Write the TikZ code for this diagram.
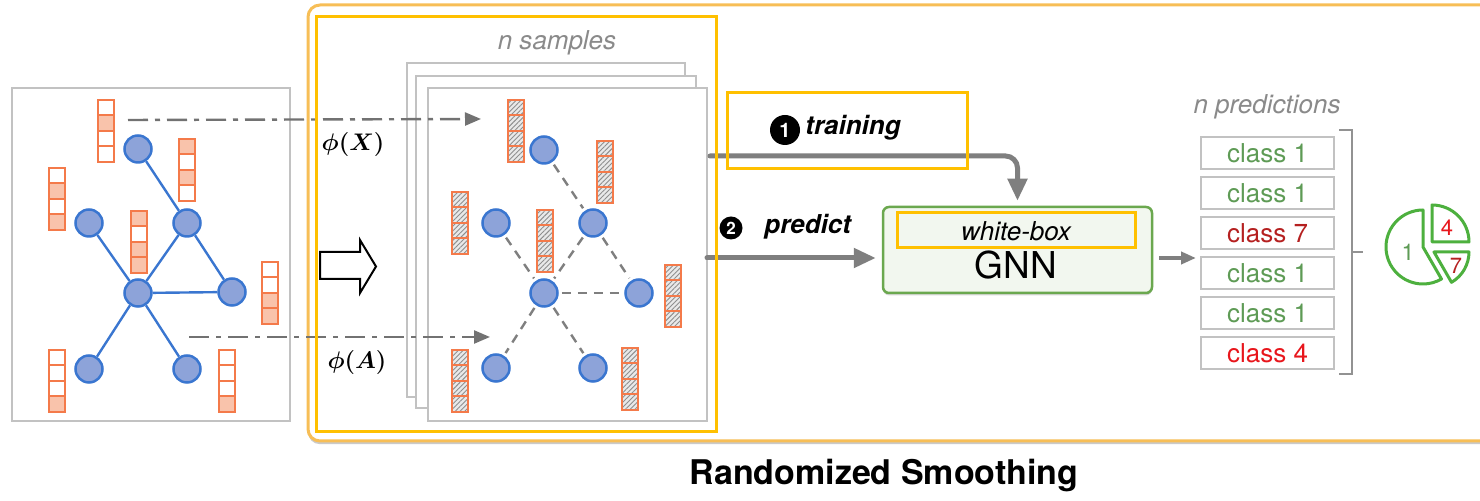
\documentclass[tikz,border=0pt]{standalone}
\usepackage[no-math]{fontspec}
\setmainfont{TeX Gyre Heros}
\usepackage{bm}
\usetikzlibrary{arrows.meta,calc,patterns.meta,shadows}

\definecolor{boxgray}{HTML}{C2C2C2}
\definecolor{nodefill}{HTML}{8DA3D9}
\definecolor{nodeline}{HTML}{3A76D0}
\definecolor{vecline}{HTML}{F47A4A}
\definecolor{vecfill}{HTML}{F9C3AB}
\definecolor{hatchbg}{HTML}{E9E9E9}
\definecolor{hatchline}{HTML}{8E8E8E}
\definecolor{hlyellow}{HTML}{FFC000}
\definecolor{frameorange}{HTML}{F7BE56}
\definecolor{arrowgray}{HTML}{7F7F7F}
\definecolor{gnnline}{HTML}{6BA84F}
\definecolor{gnnfill}{HTML}{F2F7EF}
\definecolor{classgreen}{HTML}{5E9B55}
\definecolor{classdark}{HTML}{B52020}
\definecolor{classred}{HTML}{E8161C}
\definecolor{piegreen}{HTML}{4DB03E}
\definecolor{labelgray}{HTML}{8A8A8A}

% one feature vector: four stacked cells, #2 is the top-left corner
\newcommand{\featvec}[3]{%
  \foreach \s [count=\k from 0] in {#3}
    \node[\s] (#1-\k) at ($(#2)+(8,\k*15.5+7.75)$) {};}

\begin{document}
\begin{tikzpicture}[x=0.5pt,y=-0.5pt,
  gnode/.style={circle, draw=nodeline, fill=nodefill, line width=1.25pt,
    minimum size=13.5pt, inner sep=0pt},
  celloff/.style={draw=vecline, fill=white, line width=1pt, minimum width=8pt,
    minimum height=7.75pt, inner sep=0pt, outer sep=0pt},
  cellon/.style={celloff, fill=vecfill},
  cellhatch/.style={draw=vecline, line width=1pt, minimum width=8pt,
    minimum height=7.75pt, inner sep=0pt, outer sep=0pt,
    preaction={fill=hatchbg},
    preaction={pattern={Lines[angle=45,distance=1.7pt,line width=0.45pt]},
      pattern color=hatchline}},
  solidedge/.style={draw=nodeline, line width=1.2pt},
  noisyedge/.style={draw=arrowgray, line width=1.2pt, dash pattern=on 4.5pt off 3.5pt,
    shorten <=1.5pt, shorten >=1.5pt},
  samplebox/.style={draw=boxgray, fill=white, line width=1pt},
  perturb/.style={draw=arrowgray!90!black, line width=1.2pt,
    dash pattern=on 10pt off 3.5pt on 2.5pt off 3.5pt,
    -{Triangle[length=8pt,width=6.5pt]}},
  flow/.style={draw=arrowgray, line width=2.5pt, line cap=round,
    -{Triangle[length=11pt,width=9.5pt]}},
  highlight/.style={draw=hlyellow, line width=1.5pt},
  predbox/.style={draw=boxgray, line width=1pt, minimum width=66.5pt,
    minimum height=16pt, inner sep=0pt, font=\fontsize{13}{15}\selectfont},
  stepnum/.style={circle, fill=black, text=white, inner sep=0pt,
    font=\bfseries\fontsize{10}{12}\selectfont},
  steptext/.style={anchor=west, inner sep=0pt,
    font=\bfseries\itshape\fontsize{13}{15}\selectfont},
  graylabel/.style={text=labelgray, font=\itshape\fontsize{13}{15}\selectfont},
  phitext/.style={font=\fontsize{12}{14}\selectfont},
  piepart/.style={draw=piegreen, line width=1.5pt, line join=round, fill=white}
]
\useasboundingbox (0,0) rectangle (1480,501);

% outer frame of the smoothing procedure
\draw[draw=frameorange, line width=1.5pt, fill=white, rounded corners=6pt,
  drop shadow={shadow xshift=0pt, shadow yshift=-1.6pt, opacity=0.35, fill=black!60}]
  (308,5) rectangle (1530,441);

% ---------- clean input graph ----------
\draw[draw=boxgray, line width=1pt] (12,88) rectangle (290,421);

\node[gnode] (n1) at (138,149) {};
\node[gnode] (n2) at (89,223) {};
\node[gnode] (n3) at (187,223) {};
\node[gnode] (n4) at (138,293) {};
\node[gnode] (n5) at (232,292) {};
\node[gnode] (n6) at (89,369) {};
\node[gnode] (n7) at (187,369) {};
\foreach \a/\b in {n1/n3,n2/n4,n3/n4,n3/n5,n4/n5,n4/n6,n4/n7}
  \draw[solidedge] (\a) -- (\b);

\featvec{v1}{98,100}{celloff,cellon,celloff,celloff}
\featvec{v2}{49,168}{celloff,cellon,celloff,cellon}
\featvec{v3}{179,139}{cellon,celloff,cellon,celloff}
\featvec{v4}{131,211}{cellon,celloff,cellon,cellon}
\featvec{v5}{262,262}{celloff,celloff,cellon,cellon}
\featvec{v6}{49,350}{celloff,celloff,celloff,cellon}
\featvec{v7}{219,350}{celloff,celloff,celloff,cellon}

% ---------- n noisy samples ----------
\node[graylabel] (nsamples) at (557,43) {n samples};
\draw[samplebox] (407,63) rectangle (685,397);
\draw[samplebox] (416,76) rectangle (696,408);
\draw[samplebox] (428,88) rectangle (707,421);

\node[gnode] (m1) at (544,150) {};
\node[gnode] (m2) at (496,223) {};
\node[gnode] (m3) at (593,223) {};
\node[gnode] (m4) at (544,293) {};
\node[gnode] (m5) at (639,293) {};
\node[gnode] (m6) at (496,368) {};
\node[gnode] (m7) at (593,368) {};
\foreach \a/\b in {m1/m3,m2/m4,m3/m4,m3/m5,m4/m5,m4/m6,m4/m7}
  \draw[noisyedge] (\a) -- (\b);

\featvec{w1}{508,100}{cellhatch,cellhatch,cellhatch,cellhatch}
\featvec{w2}{452,192}{cellhatch,cellhatch,cellhatch,cellhatch}
\featvec{w3}{597,141}{cellhatch,cellhatch,cellhatch,cellhatch}
\featvec{w4}{537,210}{cellhatch,cellhatch,cellhatch,cellhatch}
\featvec{w5}{665,265}{cellhatch,cellhatch,cellhatch,cellhatch}
\featvec{w6}{452,350}{cellhatch,cellhatch,cellhatch,cellhatch}
\featvec{w7}{622,348}{cellhatch,cellhatch,cellhatch,cellhatch}

% perturbations of features and structure
\coordinate (xsrc) at (128,120);
\coordinate (xdst) at (481,119);
\coordinate (asrc) at (189,337);
\coordinate (adst) at (490,337);
\draw[perturb] (xsrc) -- (xdst);
\draw[perturb] (asrc) -- (adst);
\node[phitext] (phix) at (353,145) {$\bm{\phi(X)}$};
\node[phitext] (phia) at (357,363) {$\bm{\phi(A)}$};

% hollow block arrow
\draw[line width=1pt, fill=white, line join=miter]
  (320,252) -- (360,252) -- (360,240) -- (376,266.5) -- (360,293)
  -- (360,279) -- (320,279) -- cycle;

% ---------- classifier ----------
\node[draw=gnnline, fill=gnnfill, line width=1.25pt, rounded corners=3pt,
  minimum width=134.5pt, minimum height=43pt, inner sep=0pt,
  drop shadow={shadow xshift=0pt, shadow yshift=-1.2pt, opacity=0.3, fill=black!50}]
  (gnn) at (1017.5,250) {};
\node[font=\itshape\fontsize{13}{15}\selectfont, inner sep=0pt] (wbox) at (1016,231) {white-box};
\node[font=\fontsize{18.5}{20}\selectfont, inner sep=0pt] (gnntext) at (1016,265) {GNN};

\coordinate (trainsrc) at (710,156);
\coordinate (predsrc) at (707,258);
\draw[flow, rounded corners=6pt, shorten >=2.5pt] (trainsrc) -| (gnn.north);
\draw[flow, shorten >=3pt] (predsrc) -- ([yshift=-4pt]gnn.west);

\node[stepnum, minimum size=15pt] (s1) at (785,130) {1};
\node[steptext] (training) at (805,128) {training};
\node[stepnum, minimum size=11.5pt, font=\bfseries\fontsize{8.5}{10}\selectfont] (s2) at (731,228) {2};
\node[steptext] (predict) at (764,227) {predict};

% ---------- predictions ----------
\node[graylabel] (npred) at (1267,107) {n predictions};
\node[predbox, text=classgreen] (p1) at (1267.5,153) {class 1};
\node[predbox, text=classgreen] (p2) at (1267.5,193) {class 1};
\node[predbox, text=classdark]  (p3) at (1267.5,233) {class 7};
\node[predbox, text=classgreen] (p4) at (1267.5,273) {class 1};
\node[predbox, text=classgreen] (p5) at (1267.5,313) {class 1};
\node[predbox, text=classred]   (p6) at (1267.5,353) {class 4};

\draw[draw=arrowgray, line width=2pt, -{Triangle[length=7.5pt,width=6pt]},
  shorten <=3pt, shorten >=2pt]
  ([yshift=-4pt]gnn.east) -- ([yshift=-4pt]gnn.east -| p4.west);

% bracket collecting the votes
\draw[draw=arrowgray!85, line width=0.75pt]
  ($(p1.north east)+(4,-6)$) -- ($(p1.north east)+(17,-6)$)
  -- ($(p6.south east)+(17,4)$) -- ($(p6.south east)+(4,4)$);
\draw[draw=arrowgray!85, line width=0.75pt] (1351,252) -- (1363,252);

% vote pie
\begin{scope}[shift={(1423,247)}, yscale=-1]
  \draw[piepart] (0,0) -- (90:37) arc[start angle=90, end angle=300, radius=37] -- cycle;
  \draw[piepart] (9,5) -- ++(0:37) arc[start angle=0, end angle=90, radius=37] -- cycle;
  \draw[piepart] (11,-5) -- ++(0:35) arc[start angle=0, end angle=-60, radius=35] -- cycle;
  \node[text=classgreen, font=\fontsize{11.5}{13}\selectfont] (pie1) at (-15,-5) {1};
  \node[text=classred, font=\fontsize{11}{13}\selectfont] (pie4) at (24,19) {4};
  \node[text=classdark, font=\fontsize{11}{13}\selectfont] (pie7) at (33,-19) {7};
\end{scope}

% ---------- highlights ----------
\draw[highlight] (316,17) rectangle (716,432);
\draw[highlight] (727,93) rectangle (967,169);
\draw[highlight] (897,213) rectangle (1135,248);

\node[font=\bfseries\fontsize{17}{20}\selectfont] (title) at (884,476) {Randomized Smoothing};
\end{tikzpicture}
\end{document}
